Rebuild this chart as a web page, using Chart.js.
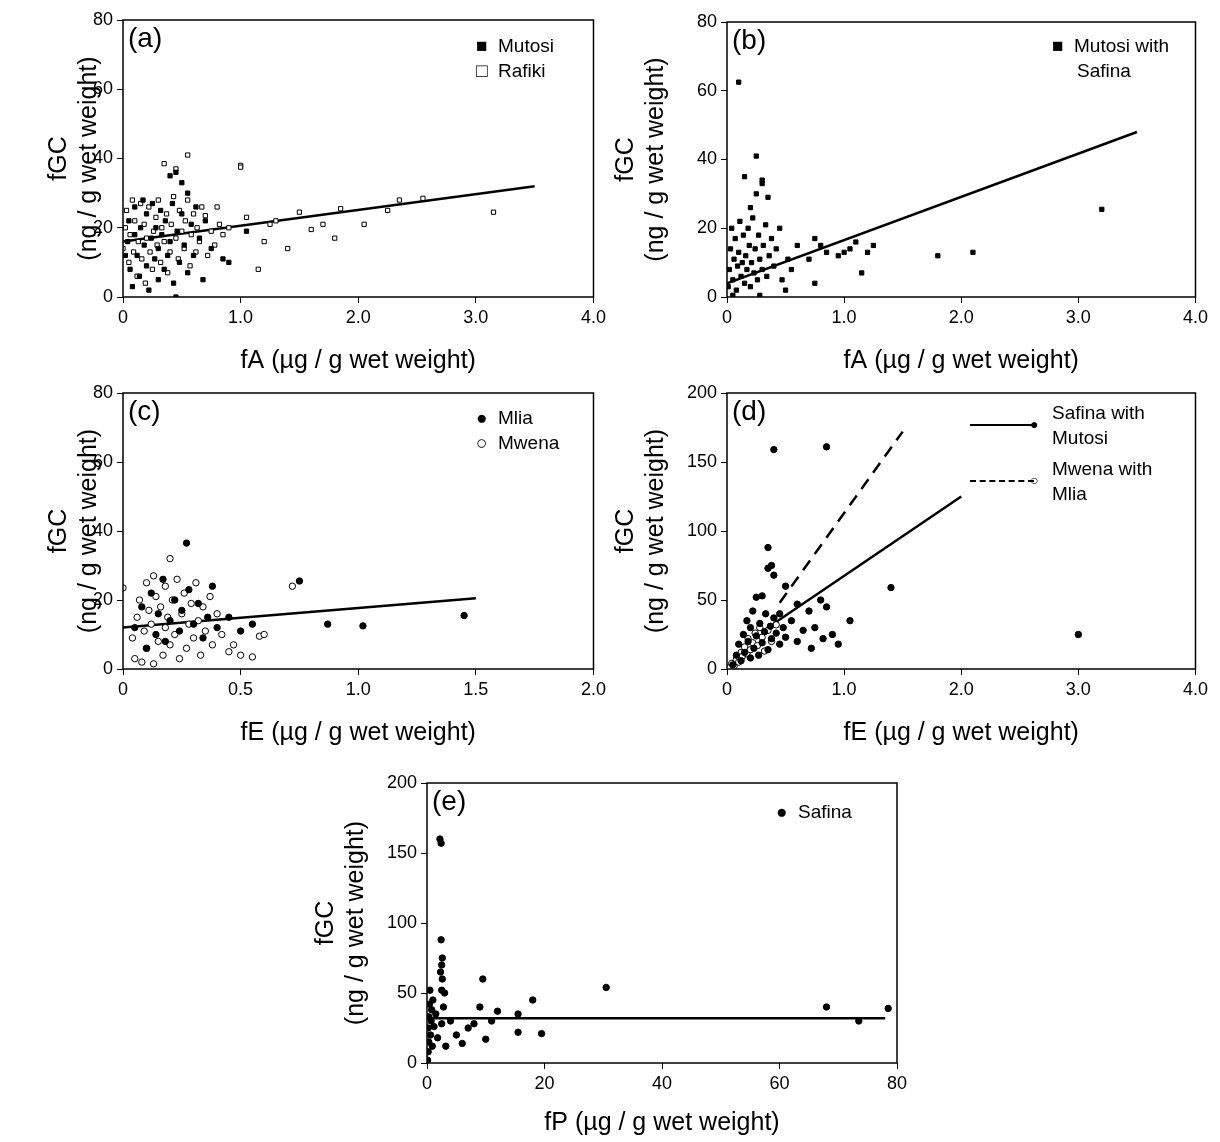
<!DOCTYPE html>
<html>
<head>
<meta charset="utf-8">
<script src="https://cdn.jsdelivr.net/npm/chart.js@4.4.1/dist/chart.umd.min.js"></script>
<style>
  body { margin: 0; background: #fff; width: 1220px; height: 1142px; position: relative; overflow: hidden; font-family: "Liberation Sans", Arial, sans-serif; }
  .panel { position: absolute; }
  .lab { position: absolute; font-size: 28px; color: #000; }
  .leg { position: absolute; font-size: 19px; color: #000; line-height: 25px; }
</style>
</head>
<body>
<div class="panel" style="left:44px;top:0px;width:566px;height:380px"><canvas id="ca"></canvas></div>
<div class="panel" style="left:611px;top:0px;width:601px;height:380px"><canvas id="cb"></canvas></div>
<div class="panel" style="left:44px;top:373px;width:566px;height:379px"><canvas id="cc"></canvas></div>
<div class="panel" style="left:611px;top:373px;width:601px;height:379px"><canvas id="cd"></canvas></div>
<div class="panel" style="left:311px;top:763px;width:601px;height:379px"><canvas id="ce"></canvas></div>

<div class="lab" style="left:128px;top:22px">(a)</div>
<div class="lab" style="left:732px;top:24px">(b)</div>
<div class="lab" style="left:128px;top:395px">(c)</div>
<div class="lab" style="left:732px;top:395px">(d)</div>
<div class="lab" style="left:432px;top:785px">(e)</div>

<div class="leg" style="left:476px;top:33px">■&nbsp; Mutosi<br>□&nbsp; Rafiki</div>
<div class="leg" style="left:1052px;top:33px">■&nbsp; Mutosi with<br><span style="padding-left:25px">Safina</span></div>
<div class="leg" style="left:476px;top:405px">●&nbsp; Mlia<br>○&nbsp; Mwena</div>
<div class="leg" style="left:966px;top:400px;width:250px">
  <div style="position:relative;height:50px"><div style="position:absolute;left:4px;top:24px;width:64px;border-top:2.5px solid #000"></div><span style="position:absolute;left:64px;top:12px;font-size:14px">●</span><span style="position:absolute;left:86px;top:0">Safina with<br>Mutosi</span></div>
  <div style="position:relative;height:50px;margin-top:6px"><div style="position:absolute;left:4px;top:24px;width:64px;border-top:2.5px dashed #000"></div><span style="position:absolute;left:64px;top:12px;font-size:14px">○</span><span style="position:absolute;left:86px;top:0">Mwena with<br>Mlia</span></div>
</div>
<div class="leg" style="left:776px;top:799px">●&nbsp; Safina</div>

<script>
// ---- data ----
const mutosiA = [[0.02,12],[0.04,16],[0.05,22],[0.06,8],[0.08,3],[0.1,18],[0.1,26],[0.12,12],[0.14,6],[0.15,20],[0.17,28],[0.18,15],[0.2,9],[0.2,24],[0.22,2],[0.24,17],[0.25,27],[0.27,11],[0.28,20],[0.3,5],[0.3,14],[0.32,25],[0.33,18],[0.35,8],[0.36,22],[0.38,12],[0.4,35],[0.4,16],[0.42,27],[0.43,4],[0.45,36],[0.45,0],[0.46,19],[0.48,10],[0.5,33],[0.5,24],[0.52,15],[0.55,30],[0.55,7],[0.58,21],[0.6,12],[0.62,26],[0.65,17],[0.68,5],[0.7,22],[0.75,14],[0.85,11],[0.9,10],[1.05,19]];
const rafikiA = [[0,14],[0.02,20],[0.03,25],[0.05,10],[0.06,18],[0.08,28],[0.09,13],[0.1,22],[0.12,6],[0.13,16],[0.15,27],[0.16,11],[0.18,21],[0.19,4],[0.2,17],[0.22,26],[0.23,13],[0.25,8],[0.26,19],[0.28,23],[0.29,15],[0.3,28],[0.32,10],[0.33,20],[0.35,38.5],[0.35,16],[0.37,24],[0.38,7],[0.4,13],[0.41,21],[0.43,29],[0.45,37],[0.45,17],[0.47,11],[0.48,25],[0.5,19],[0.52,14],[0.53,22],[0.55,41],[0.55,28],[0.57,9],[0.58,18],[0.6,24],[0.62,13],[0.63,20],[0.65,16],[0.67,26],[0.7,23.5],[0.72,12],[0.75,19],[0.78,15],[0.8,26],[0.82,21],[0.85,18],[0.9,20],[1.0,38],[1.0,37.5],[1.05,23],[1.15,8],[1.2,16],[1.25,21],[1.3,22],[1.4,14],[1.5,24.5],[1.6,19.5],[1.7,21],[1.8,17],[1.85,25.5],[2.05,21],[2.25,25],[2.35,28],[2.55,28.5],[3.15,24.5]];
const fitA = [[0,16],[3.5,32]];

const mutosiB = [[0.01,3],[0.02,8],[0.03,14],[0.04,20],[0.05,5],[0.06,11],[0.07,17],[0.08,2],[0.09,9],[0.1,62.5],[0.1,13],[0.11,22],[0.12,6],[0.13,10],[0.14,18],[0.15,35],[0.15,4],[0.16,12],[0.17,8],[0.18,20],[0.19,15],[0.2,26],[0.2,3],[0.21,10],[0.22,23],[0.23,7],[0.24,14],[0.25,41],[0.25,30],[0.26,5],[0.27,18],[0.28,11],[0.3,33],[0.3,34],[0.3,8],[0.31,15],[0.33,21],[0.34,6],[0.35,29],[0.36,12],[0.38,17],[0.4,9],[0.42,14],[0.45,20],[0.47,5],[0.5,2],[0.52,11],[0.55,8],[0.6,15],[0.7,11],[0.75,17],[0.75,4],[0.8,15],[0.85,13],[0.95,12],[1.0,13],[1.05,14],[1.1,16],[1.15,7],[1.2,13],[1.25,15],[1.8,12],[2.1,13],[3.2,25.5],[0.05,0.5],[0.28,0.5]];
const fitB = [[0,4],[3.5,48]];

const mliaC = [[0.05,12],[0.08,18],[0.1,6],[0.12,22],[0.14,10],[0.15,16],[0.17,26],[0.18,8],[0.2,14],[0.22,20],[0.24,11],[0.25,17],[0.27,36.5],[0.28,23],[0.3,13],[0.32,19],[0.34,9],[0.36,15],[0.38,24],[0.4,12],[0.45,15],[0.5,11],[0.55,13],[0.75,25.5],[0.87,13],[1.02,12.5],[1.45,15.5]];
const mwenaC = [[0,23.5],[0.04,9],[0.05,3],[0.06,15],[0.07,20],[0.08,2],[0.09,11],[0.1,25],[0.1,6],[0.11,17],[0.12,13],[0.13,27],[0.13,1.5],[0.14,21],[0.15,8],[0.16,18],[0.17,4],[0.18,24],[0.18,12],[0.19,15],[0.2,32],[0.2,7],[0.21,20],[0.22,10],[0.23,26],[0.24,3],[0.25,16],[0.26,22],[0.27,6],[0.28,13],[0.29,19],[0.3,9],[0.31,25],[0.32,14],[0.33,4],[0.34,18],[0.35,11],[0.37,21],[0.38,7],[0.4,16],[0.42,10],[0.45,5],[0.47,7],[0.5,4],[0.55,3.5],[0.58,9.5],[0.6,10],[0.72,24]];
const fitC = [[0,12],[1.5,20.5]];

const safinaD = [[0.05,3],[0.08,10],[0.1,18],[0.12,6],[0.14,25],[0.15,12],[0.17,35],[0.18,20],[0.2,8],[0.2,30],[0.22,42],[0.23,15],[0.25,52],[0.25,24],[0.27,10],[0.28,33],[0.3,53],[0.3,19],[0.32,27],[0.33,40],[0.35,88],[0.35,73],[0.35,14],[0.37,31],[0.38,75],[0.38,22],[0.4,159],[0.4,68],[0.4,37],[0.42,26],[0.45,40],[0.45,18],[0.48,30],[0.5,60],[0.5,23],[0.55,35],[0.6,47],[0.6,20],[0.65,28],[0.7,42],[0.72,15],[0.75,30],[0.8,50],[0.82,22],[0.85,45],[0.85,161],[0.9,25],[0.95,18],[1.05,35],[1.4,59],[3.0,25]];
const mwenaD = [[0.02,1],[0.04,4],[0.06,2],[0.08,7],[0.1,5],[0.12,12],[0.13,9],[0.15,16],[0.17,11],[0.18,22],[0.2,14],[0.22,19],[0.24,26],[0.26,17],[0.28,30],[0.3,23],[0.32,13],[0.35,28],[0.38,20],[0.42,32]];
const fitSafinaD = [[0.4,33],[2.0,125]];
const fitMwenaD = [[0.45,48],[1.5,172]];

const safinaE = [[0.1,2],[0.2,8],[0.3,15],[0.2,25],[0.3,33],[0.4,42],[0.5,52],[0.6,20],[0.7,30],[0.8,38],[0.9,12],[1.0,45],[1.2,26],[1.5,35],[1.8,18],[2.2,160],[2.4,157],[2.4,88],[2.6,75],[2.5,70],[2.3,65],[2.6,60],[2.5,52],[3,50],[2.8,40],[2.5,28],[3.2,12],[4,30],[5,20],[6,14],[7,25],[8,28],[9,40],[9.5,60],[10,17],[11,30],[12,37],[15.5,35],[15.5,22],[18,45],[19.5,21],[30.5,54],[68,40],[73.5,30],[78.5,39]];
const fitE = [[0,32],[78,32]];

const xTicksA = [0, 1, 2, 3, 4];
const xTicksC = [0, 0.5, 1, 1.5, 2];
const xTicksE = [0, 20, 40, 60, 80];

// ---- helpers ----
const toXY = arr => arr.map(p => ({ x: p[0], y: p[1] }));
const FONT = "'Liberation Sans', Arial, sans-serif";

const boxPlugin = {
  id: 'box',
  afterDraw(chart) {
    const a = chart.chartArea, ctx = chart.ctx;
    ctx.save();
    ctx.strokeStyle = '#000';
    ctx.lineWidth = 1.5;
    ctx.strokeRect(a.left, a.top, a.right - a.left, a.bottom - a.top);
    ctx.restore();
  }
};

function pts(data, style, filled) {
  return {
    type: 'scatter', data: toXY(data), pointStyle: style,
    pointRadius: style === 'rect' ? 3 : 3.2,
    backgroundColor: filled ? '#000' : '#fff', borderColor: '#000', borderWidth: 1
  };
}
function fit(data, dash) {
  return {
    type: 'line', data: toXY(data), borderColor: '#000', borderWidth: 2.5,
    borderDash: dash ? [12, 8] : [], pointRadius: 0, fill: false
  };
}

function makePanel(id, datasets, xMax, xTicks, xDec, yMax, yStep, xTitle, top, xH, yW) {
  new Chart(id, {
    type: 'scatter',
    data: { datasets: datasets },
    plugins: [boxPlugin],
    options: {
      responsive: true, maintainAspectRatio: false, animation: false,
      layout: { padding: { top: top, right: 15 } },
      plugins: { legend: { display: false }, tooltip: { enabled: false } },
      scales: {
        x: {
          type: 'linear', min: 0, max: xMax,
          afterBuildTicks: s => { s.ticks = xTicks.map(v => ({ value: v })); },
          afterFit: s => { s.height = xH; },
          grid: { drawOnChartArea: false, color: '#000', tickLength: 6 },
          border: { display: false },
          ticks: { color: '#000', font: { family: FONT, size: 18 }, padding: 4,
                   callback: v => v === 0 ? '0' : v.toFixed(xDec) },
          title: { display: true, text: xTitle, color: '#000', font: { family: FONT, size: 25 }, padding: { top: 2 } }
        },
        y: {
          min: 0, max: yMax,
          ticks: { stepSize: yStep, color: '#000', font: { family: FONT, size: 18 }, padding: 4 },
          afterFit: s => { s.width = yW; },
          grid: { drawOnChartArea: false, color: '#000', tickLength: 6 },
          border: { display: false },
          title: { display: true, text: ['fGC', '(ng / g wet weight)'], color: '#000',
                   font: { family: FONT, size: 25 }, padding: 0 }
        }
      }
    }
  });
}

makePanel('ca', [pts(mutosiA, 'rect', true), pts(rafikiA, 'rect', false), fit(fitA)],
  4, xTicksA, 1, 80, 20, 'fA (µg / g wet weight)', 20, 83, 79);
makePanel('cb', [pts(mutosiB, 'rect', true), fit(fitB)],
  4, xTicksA, 1, 80, 20, 'fA (µg / g wet weight)', 22, 83, 116);
makePanel('cc', [pts(mliaC, 'circle', true), pts(mwenaC, 'circle', false), fit(fitC)],
  2, xTicksC, 1, 80, 20, 'fE (µg / g wet weight)', 20, 83, 79);
makePanel('cd', [pts(safinaD, 'circle', true), pts(mwenaD, 'circle', false), fit(fitSafinaD), fit(fitMwenaD, true)],
  4, xTicksA, 1, 200, 50, 'fE (µg / g wet weight)', 20, 83, 116);
makePanel('ce', [pts(safinaE, 'circle', true), fit(fitE)],
  80, xTicksE, 0, 200, 50, 'fP (µg / g wet weight)', 20, 79, 116);
</script>
</body>
</html>
